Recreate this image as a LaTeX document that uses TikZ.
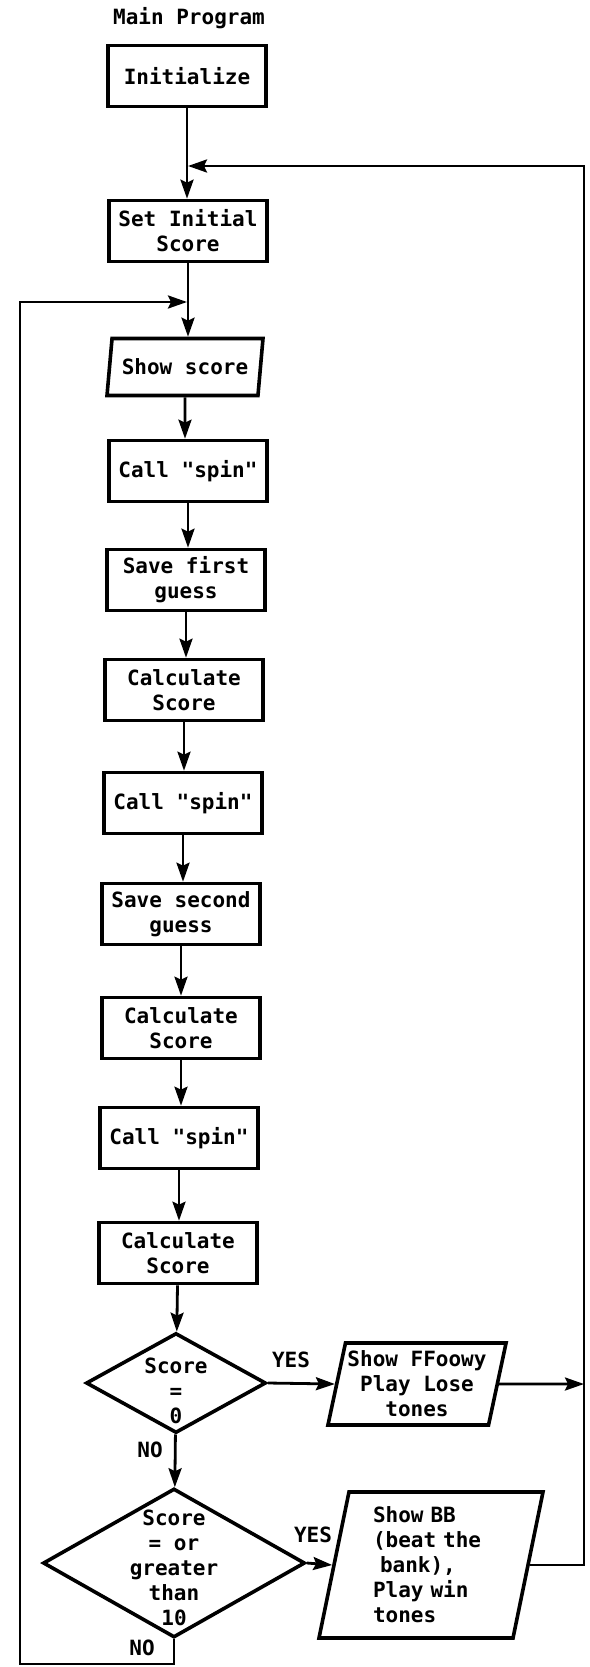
\documentclass[tikz,border=0pt]{standalone}
\usepackage{fontspec}
\setmonofont{DejaVu Sans Mono}
\usetikzlibrary{arrows.meta,shapes.geometric}

\begin{document}
\begin{tikzpicture}[x=1pt, y=-1pt, >={Stealth[length=19pt,width=13pt,inset=3pt]},
		font=\ttfamily\bfseries\fontsize{21}{25}\selectfont]
		\tikzset{box/.style={draw, line width=3.6pt, minimum width=158pt, minimum height=61pt, inner sep=2pt, align=center},
			io/.style={draw, line width=3.6pt, trapezium, trapezium left angle=76, trapezium right angle=104, trapezium stretches body, inner sep=2pt, align=center},
			test/.style={draw, line width=3.6pt, diamond, inner sep=0pt},
			flow/.style={line width=2.8pt}}
		\useasboundingbox (0,0) rectangle (589,1667);
		\node (title) at (189,18) {Main Program};
		\node[box] (init) at (187,76) {Initialize};
		\node[box] (setsc) at (188,231) {Set Initial\\Score};
		\node[io, minimum width=156pt, minimum height=57pt] (show) at (185,367) {Show score};
		\node[box] (spin1) at (188,471) {Call "spin"};
		\node[box] (save1) at (186,580) {Save first\\guess};
		\node[box] (calc1) at (184,690) {Calculate\\Score};
		\node[box] (spin2) at (183,803) {Call "spin"};
		\node[box] (save2) at (181,914) {Save second\\guess};
		\node[box] (calc2) at (181,1028) {Calculate\\Score};
		\node[box] (spin3) at (179,1138) {Call "spin"};
		\node[box] (calc3) at (178,1253) {Calculate\\Score};
		\node[test, minimum width=180pt, minimum height=100pt, label={[align=center, yshift=-8pt]center:Score\\=\\0}] (dec1) at (176,1383) {};
		\node[io, minimum width=168pt, minimum height=82pt] (lose) at (417,1384) {Show FFoowy\\Play Lose\\tones};
		\node[test, minimum width=262pt, minimum height=149pt, label={[align=center, yshift=-5pt]center:Score\\= or\\greater\\than\\10}] (dec2) at (174,1563) {};
		\node[io, minimum width=224pt, minimum height=146pt, align=left, text width=116pt] (win) at (431,1565) {Show BB\\(beat the\\~bank),\\Play win\\tones};
		\node (yes1) at (291,1360) {YES};
		\node (no1) at (150,1450) {NO};
		\node (yes2) at (313,1535) {YES};
		\node (no2) at (142,1648) {NO};
		\coordinate (j1) at (188,166);
		\coordinate (j2) at (187,302);
		\coordinate (rtop) at (584,166);
		\coordinate (rlose) at (584,1384);
		\coordinate (lbot) at (20,1664);
		% main column
		\draw[flow,->] (init) -- (init |- setsc.north);
		\draw[flow,->] (setsc) -- (setsc |- show.north);
		\draw[flow,->] (show) -- (show |- spin1.north);
		\draw[flow,->] (spin1) -- (spin1 |- save1.north);
		\draw[flow,->] (save1) -- (save1 |- calc1.north);
		\draw[flow,->] (calc1) -- (calc1 |- spin2.north);
		\draw[flow,->] (spin2) -- (spin2 |- save2.north);
		\draw[flow,->] (save2) -- (save2 |- calc2.north);
		\draw[flow,->] (calc2) -- (calc2 |- spin3.north);
		\draw[flow,->] (spin3) -- (spin3 |- calc3.north);
		\draw[flow,->] (calc3) -- (dec1);
		% decisions
		\draw[flow,->] (dec1.east) -- (lose.west);
		\draw[flow,->] (dec1) -- (dec2);
		\draw[flow,->] (dec2.east) -- (win.west);
		% loops back
		\draw[flow,->] (lose.east) -- (rlose);
		\draw[flow,->] (win.east) -| (rtop) -- (j1);
		\draw[flow,->] (dec2.south) |- (lbot) |- (j2);
	\end{tikzpicture}
\end{document}
